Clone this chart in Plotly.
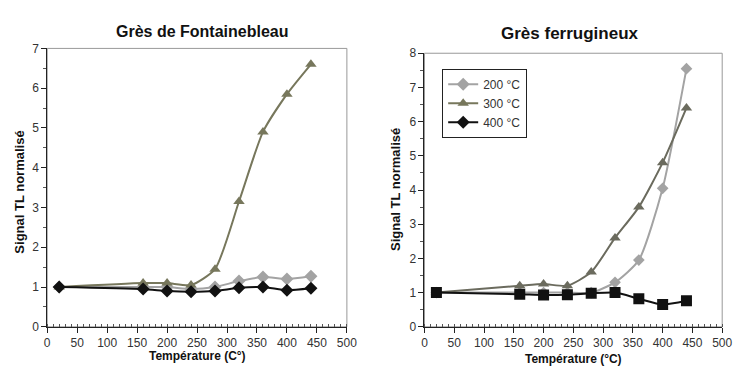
import plotly.graph_objects as go

temps = [20, 160, 200, 240, 280, 320, 360, 400, 440]

# Grès de Fontainebleau
fb_200 = [1.0, 1.0, 1.0, 0.95, 1.0, 1.15, 1.25, 1.2, 1.27]
fb_300 = [1.0, 1.1, 1.1, 1.05, 1.45, 3.15, 4.9, 5.85, 6.6]
fb_400 = [1.0, 0.95, 0.9, 0.88, 0.9, 0.98, 1.0, 0.92, 0.97]

# Grès ferrugineux
fe_200 = [1.0, 1.0, 1.0, 1.0, 1.0, 1.3, 1.95, 4.05, 7.55]
fe_300 = [1.0, 1.2, 1.25, 1.2, 1.6, 2.6, 3.5, 4.8, 6.4]
fe_400 = [1.0, 0.95, 0.93, 0.94, 0.98, 1.0, 0.82, 0.65, 0.76]

series_names = ["200 °C", "300 °C", "400 °C"]
x_ticks = [0, 50, 100, 150, 200, 250, 300, 350, 400, 450, 500]

C200 = "#a3a3a3"
C300 = "#77775c"
C300R = "#6b6b5e"
C400 = "#111111"
FONT = "Liberation Sans, Arial, sans-serif"

fig = go.Figure()

def add(x, y, name, color, symbol, size, xa, ya, legend):
    fig.add_trace(go.Scatter(
        x=x, y=y, name=name, mode="lines+markers",
        line=dict(color=color, width=2, shape="spline", smoothing=0.6),
        marker=dict(color=color, symbol=symbol, size=size),
        xaxis=xa, yaxis=ya, showlegend=legend))

add(temps, fb_200, series_names[0], C200, "diamond", 10, "x", "y", True)
add(temps, fb_300, series_names[1], C300, "triangle-up", 10, "x", "y", True)
add(temps, fb_400, series_names[2], C400, "diamond", 10, "x", "y", True)

add(temps, fe_200, series_names[0], C200, "diamond", 9, "x2", "y2", False)
add(temps, fe_300, series_names[1], C300R, "triangle-up", 10, "x2", "y2", False)
add(temps, fe_400, series_names[2], C400, "square", 11, "x2", "y2", False)

def xaxis(domain, anchor):
    return dict(domain=domain, anchor=anchor, range=[0, 500], tickvals=x_ticks,
                showgrid=False, zeroline=False, showline=True, linecolor="#222",
                linewidth=1, ticks="outside", ticklen=5, tickcolor="#222",
                tickfont=dict(family=FONT, size=12, color="#333"),
                minor=dict(dtick=10, ticks="inside", ticklen=3, tickcolor="#555"))

def yaxis(domain, anchor, top):
    return dict(domain=domain, anchor=anchor, range=[0, top], dtick=1,
                showgrid=False, zeroline=False, showline=True, linecolor="#222",
                linewidth=1, ticks="outside", ticklen=5, tickcolor="#222",
                tickfont=dict(family=FONT, size=12, color="#333"),
                minor=dict(dtick=0.5, ticks="outside", ticklen=3, tickcolor="#555"))

W, H = 743, 381
fig.update_layout(
    width=W, height=H, margin=dict(l=0, r=0, t=0, b=0),
    paper_bgcolor="white", plot_bgcolor="white",
    xaxis=xaxis([45 / W, 350 / W], "y"),
    yaxis=yaxis([(H - 332) / H, (H - 43) / H], "x", 7),
    xaxis2=xaxis([429 / W, 732 / W], "y2"),
    yaxis2=yaxis([(H - 332) / H, (H - 48) / H], "x2", 8),
    legend=dict(x=447 / W, y=(H - 64) / H, xanchor="left", yanchor="top",
                bordercolor="#222", borderwidth=1, bgcolor="white",
                font=dict(family=FONT, size=12, color="#333"),
                itemwidth=30, tracegroupgap=0),
    font=dict(family=FONT),
)

shapes = []
for xr, yr in [("x domain", "y domain"), ("x2 domain", "y2 domain")]:
    shapes.append(dict(type="rect", xref=xr, yref=yr, x0=0, x1=1, y0=0, y1=1,
                       line=dict(color="#999", width=1), layer="below"))
fig.update_layout(shapes=shapes)

ann = [
    dict(text="<b>Grès de Fontainebleau</b>", x=203 / W, y=(H - 25) / H, size=16),
    dict(text="<b>Grès ferrugineux</b>", x=577 / W, y=(H - 28) / H, size=17),
    dict(text="<b>Température (C°)</b>", x=198 / W, y=(H - 362) / H, size=12),
    dict(text="<b>Température (°C)</b>", x=581 / W, y=(H - 365) / H, size=12),
]
for a in ann:
    fig.add_annotation(text=a["text"], xref="paper", yref="paper", x=a["x"], y=a["y"],
                       showarrow=False, xanchor="center", yanchor="middle",
                       font=dict(family=FONT, size=a["size"], color="#111"))
for xp, yp in [(17, 192), (399, 190)]:
    fig.add_annotation(text="<b>Signal TL normalisé</b>", xref="paper", yref="paper",
                       x=xp / W, y=(H - yp) / H, showarrow=False, textangle=-90,
                       xanchor="center", yanchor="middle",
                       font=dict(family=FONT, size=13, color="#111"))

fig.write_html("out.html", config={"displayModeBar": False},
               post_script="document.body.style.margin='0';document.body.style.overflow='hidden';")
